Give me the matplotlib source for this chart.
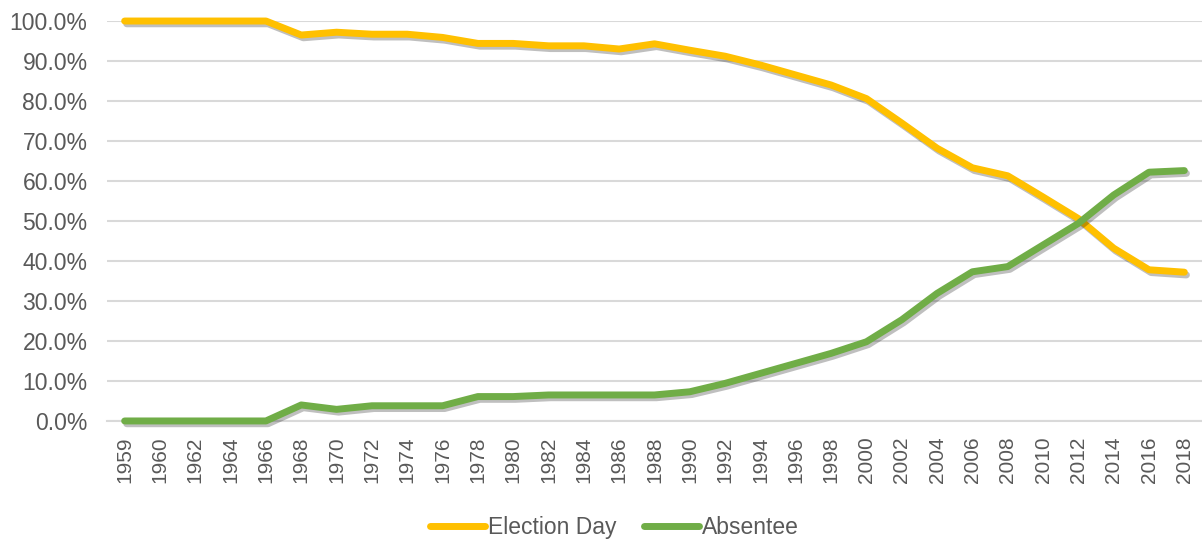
import matplotlib.pyplot as plt
import matplotlib.patheffects as pe
from matplotlib.ticker import PercentFormatter

plt.rcParams["font.family"] = ["Liberation Sans", "DejaVu Sans"]

years = ["1959"] + [str(y) for y in range(1960, 2019, 2)]
election_day = [100.0, 100.0, 100.0, 100.0, 100.0, 96.5, 97.2, 96.7, 96.7, 95.9,
                94.4, 94.4, 93.8, 93.8, 93.0, 94.3, 92.7, 91.2, 89.0, 86.5,
                84.0, 80.6, 74.5, 68.2, 63.3, 61.3, 56.0, 50.6, 43.2, 37.8, 37.2]
absentee = [0.0, 0.0, 0.0, 0.0, 0.0, 4.0, 2.9, 3.8, 3.8, 3.8,
            6.1, 6.1, 6.5, 6.5, 6.5, 6.5, 7.3, 9.4, 11.9, 14.4,
            16.9, 19.8, 25.3, 31.9, 37.3, 38.6, 44.0, 49.4, 56.5, 62.2, 62.6]

text_color = "#595959"
grid_color = "#d9d9d9"

fig = plt.figure(figsize=(12.02, 5.39), dpi=100)
ax = fig.add_axes([0.089, 0.219, 0.911, 0.742])

x = range(len(years))
shadow = [pe.SimpleLineShadow(offset=(1.5, -2), shadow_color="black", alpha=0.25),
          pe.Normal()]
ax.plot(x, election_day, color="#FFC000", lw=5, label="Election Day",
        solid_capstyle="round", solid_joinstyle="round", clip_on=False,
        path_effects=shadow, zorder=3)
ax.plot(x, absentee, color="#70AD47", lw=5, label="Absentee",
        solid_capstyle="round", solid_joinstyle="round", clip_on=False,
        path_effects=shadow, zorder=3)

ax.set_xlim(-0.5, len(years) - 0.5)
ax.set_ylim(0, 100)
ax.set_yticks(range(0, 101, 10))
ax.yaxis.set_major_formatter(PercentFormatter(decimals=1))
ax.set_xticks(list(x))
ax.set_xticklabels(years, rotation=90)
ax.tick_params(axis="both", length=0, colors=text_color)
ax.tick_params(axis="y", labelsize=16.5, pad=14)
ax.tick_params(axis="x", labelsize=15, pad=11)

ax.grid(axis="y", color=grid_color, lw=1.5)
ax.set_axisbelow(True)
for side in ["top", "right", "left"]:
    ax.spines[side].set_visible(False)
ax.spines["bottom"].set_color(grid_color)
ax.spines["bottom"].set_linewidth(1.5)

leg = fig.legend(loc="center", bbox_to_anchor=(0.511, 0.022), ncol=2,
                 frameon=False, fontsize=16.5, handlelength=2.4,
                 handletextpad=0.12, columnspacing=1.2)
for text in leg.get_texts():
    text.set_color(text_color)
for line in leg.get_lines():
    line.set_path_effects([])

fig.savefig("out.png", dpi=100)
